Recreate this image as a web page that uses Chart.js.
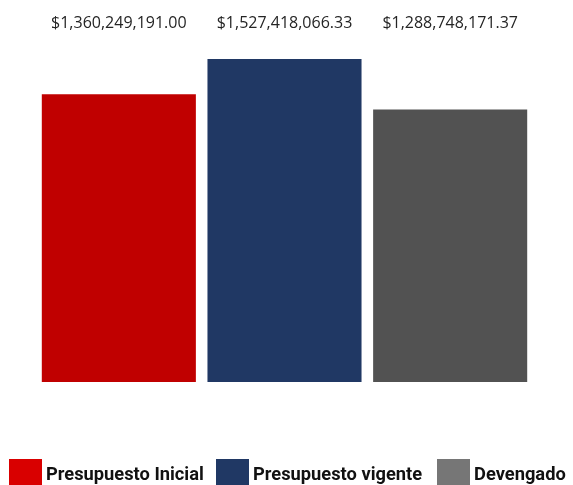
<!DOCTYPE html>
<html>
<head>
<meta charset="utf-8">
<script src="https://cdn.jsdelivr.net/npm/chart.js@4"></script>
<style>
  html, body { margin: 0; padding: 0; background: #fff; }
  #wrap { width: 573px; height: 485px; position: relative; }
</style>
</head>
<body>
<div id="wrap"><canvas id="chart"></canvas></div>
<script>
const seriesNames = ['Presupuesto Inicial', 'Presupuesto vigente', 'Devengado'];
const seriesValues = [1360249191.00, 1527418066.33, 1288748171.37];
const barColors = ['#C00000', '#203864', '#525252'];
const legendColors = ['#D90000', '#203864', '#767676'];

function money(v) {
  return '$' + v.toLocaleString('en-US', { minimumFractionDigits: 2, maximumFractionDigits: 2 });
}

// value labels sit in a row at the top, centred over each bar
const topLabels = {
  id: 'topLabels',
  afterDatasetsDraw(chart) {
    const ctx = chart.ctx;
    ctx.save();
    ctx.font = '16px "Open Sans"';
    ctx.fillStyle = '#252525';
    ctx.textAlign = 'center';
    ctx.textBaseline = 'alphabetic';
    chart.data.datasets.forEach((ds, i) => {
      const bar = chart.getDatasetMeta(i).data[0];
      ctx.fillText(money(ds.data[0]), bar.x, 28);
    });
    ctx.restore();
  }
};

// legend along the bottom edge
const legendX = [9, 216, 437];
const bottomLegend = {
  id: 'bottomLegend',
  afterDraw(chart) {
    const ctx = chart.ctx;
    ctx.save();
    ctx.font = 'bold 18.3px Roboto';
    ctx.textBaseline = 'alphabetic';
    seriesNames.forEach((name, i) => {
      const x = legendX[i];
      ctx.fillStyle = legendColors[i];
      ctx.fillRect(x, 459, 33, 30);
      ctx.fillStyle = '#111';
      ctx.fillText(name, x + 37, 480);
    });
    ctx.restore();
  }
};

new Chart(document.getElementById('chart').getContext('2d'), {
  type: 'bar',
  data: {
    labels: [''],
    datasets: seriesNames.map((name, i) => ({
      label: name,
      data: [seriesValues[i]],
      backgroundColor: barColors[i],
      borderWidth: 0,
      barPercentage: 0.93,
      categoryPercentage: 1
    }))
  },
  options: {
    responsive: true,
    maintainAspectRatio: false,
    animation: false,
    layout: { padding: { left: 36, right: 40, top: 45, bottom: 103 } },
    plugins: {
      legend: { display: false },
      tooltip: { enabled: false }
    },
    scales: {
      x: { display: false },
      y: { display: false, min: 0, max: 1527418066.33 * (337 / 323) }
    }
  },
  plugins: [topLabels, bottomLegend]
});
</script>
</body>
</html>
